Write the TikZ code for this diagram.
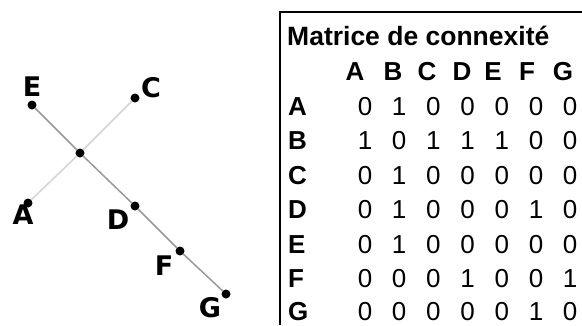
\documentclass[tikz,border=0pt]{standalone}
\usepackage{fontspec}
\setmainfont{Liberation Sans}
\newfontfamily\lblfont{DejaVu Sans}
\begin{document}
\begin{tikzpicture}[x=1pt,y=-1pt,
  vtx/.style={circle,fill=black,inner sep=0pt,minimum size=9pt},
  vlab/.style={font=\lblfont\bfseries\fontsize{27}{30}\selectfont,inner sep=0pt},
  darkedge/.style={draw=black!40,line width=1.5pt},
  lightedge/.style={draw=black!17,line width=1.5pt},
  hdr/.style={font=\bfseries\fontsize{26}{30}\selectfont,inner sep=0pt},
  cell/.style={font=\fontsize{26}{30}\selectfont,inner sep=0pt},
  frame/.style={line width=2pt}]
\useasboundingbox (0,0) rectangle (582,325);
% vertices
\node[vtx] (E) at (32,105) {};
\node[vtx] (C) at (135,98) {};
\node[vtx] (B) at (80,153) {};
\node[vtx] (A) at (28,203) {};
\node[vtx] (D) at (135,206) {};
\node[vtx] (F) at (180,251) {};
\node[vtx] (G) at (226,294) {};
% labels
\node[vlab] (lE) at (32,87) {E};
\node[vlab] (lC) at (151,88) {C};
\node[vlab] (lA) at (23,215) {A};
\node[vlab] (lD) at (118,220) {D};
\node[vlab] (lF) at (164,266) {F};
\node[vlab] (lG) at (210,308) {G};
% edges
\draw[lightedge] (A) -- (B);
\draw[lightedge] (C) -- (B);
\draw[darkedge] (E) -- (B);
\draw[darkedge] (B) -- (D);
\draw[darkedge] (D) -- (F);
\draw[darkedge] (F) -- (G);
% table frame
\coordinate (tr) at (582,12);
\coordinate (tl) at (280,12);
\coordinate (bl) at (280,325);
\draw[frame] (tr) -- (tl) -- (bl);
\node[hdr,anchor=base west,font=\bfseries\fontsize{26.5}{30}\selectfont] (title) at (287,45) {Matrice de connexité};
% column headers
\foreach \h/\x in {A/355,B/393,C/427,D/462,E/493,F/527,G/563}
  \node[hdr] (h\h) at (\x,72) {\h};
% rows
\foreach \r/\y/\vals in {A/107/{0,1,0,0,0,0,0},B/141/{1,0,1,1,1,0,0},C/176/{0,1,0,0,0,0,0},D/210/{0,1,0,0,0,1,0},E/245/{0,1,0,0,0,0,0},F/279/{0,0,0,1,0,0,1},G/312/{0,0,0,0,0,1,0}}{
  \node[hdr,anchor=west] (r\r) at (288,\y) {\r};
  \foreach \v [count=\i] in \vals
    \node[cell] (m\r\i) at ({365+34.2*(\i-1)},\y) {\v};
}
\end{tikzpicture}
\end{document}
